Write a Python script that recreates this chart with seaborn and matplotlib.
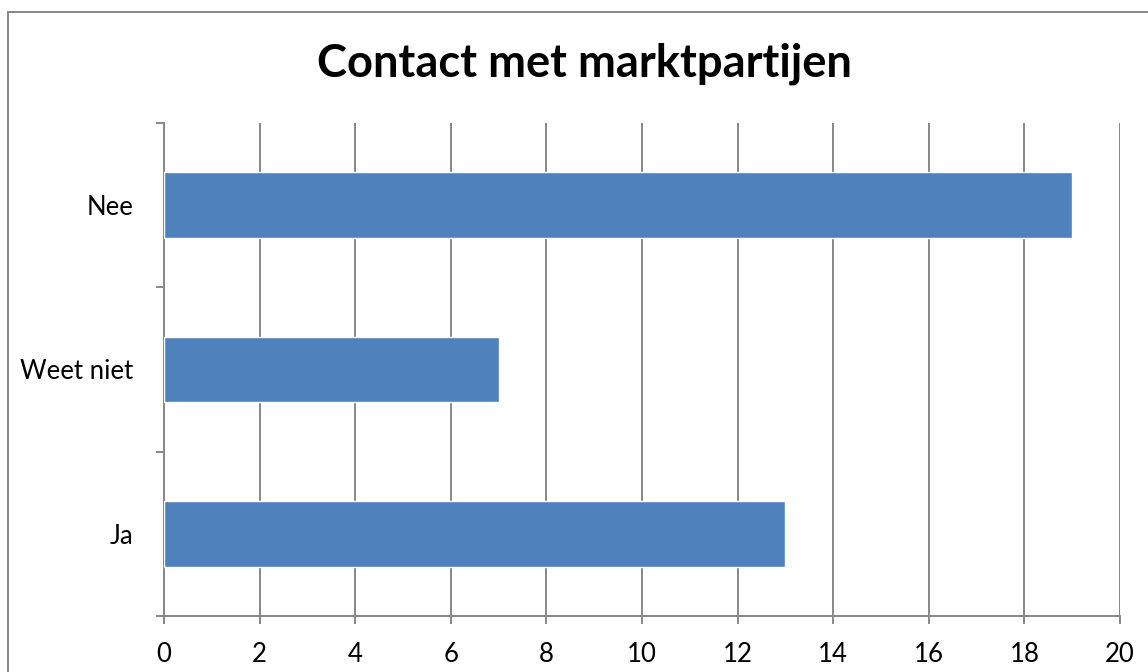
import matplotlib
matplotlib.use("Agg")
import matplotlib.pyplot as plt
import seaborn as sns
import pandas as pd
from matplotlib.patches import Rectangle

categories = ["Nee", "Weet niet", "Ja"]
values = [19, 7, 13]
x_ticks = [0, 2, 4, 6, 8, 10, 12, 14, 16, 18, 20]
title = "Contact met marktpartijen"

sns.set_theme(style="white")
plt.rcParams['font.family'] = ['Lato', 'DejaVu Sans']

df = pd.DataFrame({"cat": categories, "val": values})

fig = plt.figure(figsize=(11.48, 6.72), dpi=100)
ax = fig.add_axes([164/1148, 1 - 616/672, (1120-164)/1148, (616-123)/672])

sns.barplot(data=df, y="cat", x="val", order=categories, color="#4F81BD",
            saturation=1, width=0.4, ax=ax, zorder=3)

grid_c = "#878787"
ax.set_xlim(0, 20)
ax.set_ylim(2.5, -0.5)
ax.set_xticks(x_ticks)
ax.set_xticklabels([str(t) for t in x_ticks])
ax.xaxis.grid(True, color=grid_c, linewidth=1.4, zorder=0)
ax.set_axisbelow(True)
ax.set_xlabel("")
ax.set_ylabel("")

for s in ["top", "right"]:
    ax.spines[s].set_visible(False)
for s in ["left", "bottom"]:
    ax.spines[s].set_visible(True)
    ax.spines[s].set_color(grid_c)
    ax.spines[s].set_linewidth(1.4)

ax.tick_params(axis="x", which="major", length=6, width=1.4, color=grid_c,
               labelsize=18.5, labelcolor="black", pad=12.5, bottom=True)
ax.set_yticks([0, 1, 2])
ax.set_yticklabels(categories)
ax.set_yticks([-0.5, 0.5, 1.5, 2.5], minor=True)
ax.tick_params(axis="y", which="major", length=0, labelsize=18.5,
               labelcolor="black", pad=22)
ax.tick_params(axis="y", which="minor", length=6, width=1.4, color=grid_c, left=True)

fig.text(584/1148, 1 - 64/672, title, ha="center", va="center",
         fontsize=32.6, fontweight="bold", color="black")

fig.patches.append(Rectangle((8/1148, -0.1), 1.2, 1.1 - 11.5/672,
                             transform=fig.transFigure, fill=False,
                             edgecolor="#878787", linewidth=1.4))

fig.savefig("out.png", dpi=100, facecolor="white")
